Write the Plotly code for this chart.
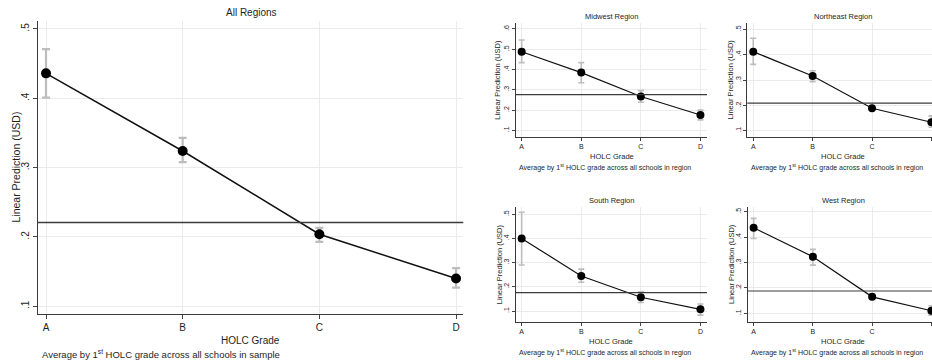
import plotly.graph_objects as go

W, H = 932, 362

grades = ["A", "B", "C", "D"]

# All Regions
all_mean = [0.436, 0.324, 0.204, 0.140]
all_hi = [0.471, 0.343, 0.213, 0.155]
all_lo = [0.401, 0.308, 0.193, 0.127]
all_avg = 0.221

# Midwest
mw_mean = [0.488, 0.385, 0.267, 0.176]
mw_hi = [0.546, 0.434, 0.296, 0.200]
mw_lo = [0.434, 0.335, 0.239, 0.152]
mw_avg = 0.276

# Northeast
ne_mean = [0.412, 0.316, 0.189, 0.134]
ne_hi = [0.465, 0.337, 0.195, 0.159]
ne_lo = [0.362, 0.294, 0.183, 0.114]
ne_avg = 0.209

# South
so_mean = [0.400, 0.245, 0.157, 0.107]
so_hi = [0.508, 0.273, 0.180, 0.129]
so_lo = [0.290, 0.219, 0.135, 0.083]
so_avg = 0.176

# West
we_mean = [0.437, 0.323, 0.165, 0.110]
we_hi = [0.474, 0.352, 0.176, 0.130]
we_lo = [0.395, 0.290, 0.155, 0.093]
we_avg = 0.188

main_ticks = [0.1, 0.2, 0.3, 0.4, 0.5]
main_ticktext = [".1", ".2", ".3", ".4", ".5"]
mw_ticks = [0.1, 0.2, 0.3, 0.4, 0.5, 0.6]
mw_ticktext = [".1", ".2", ".3", ".4", ".5", ".6"]

FONT = "Liberation Sans, Arial, sans-serif"
TXT = "#1e1e1e"

panels = [
    dict(mean=all_mean, hi=all_hi, lo=all_lo, avg=all_avg,
         box=(38, 463.3, 21, 314), xr=[-0.0585, 3.053], yr=[0.0889, 0.5115],
         tv=main_ticks, tt=main_ticktext, title="All Regions",
         foot="Average by 1<sup>st</sup> HOLC grade across all schools in sample", big=True,
         title_xy=(251, 13), ytitle_x=15, xt_y=340, foot_xy=(40, 354)),
    dict(mean=mw_mean, hi=mw_hi, lo=mw_lo, avg=mw_avg,
         box=(515.7, 707, 22.7, 136.7), xr=[-0.1, 3.11], yr=[0.069, 0.631],
         tv=mw_ticks, tt=mw_ticktext, title="Midwest Region",
         foot="Average by 1<sup>st</sup> HOLC grade across all schools in region", big=False,
         title_xy=(611.7, 16), ytitle_x=498, xt_y=156, foot_xy=(516.7, 168)),
    dict(mean=ne_mean, hi=ne_hi, lo=ne_lo, avg=ne_avg,
         box=(747.3, 932, 22.7, 136.7), xr=[-0.1, 3.01], yr=[0.077, 0.526],
         tv=main_ticks, tt=main_ticktext, title="Northeast Region",
         foot="Average by 1<sup>st</sup> HOLC grade across all schools in region", big=False,
         title_xy=(843, 16), ytitle_x=730.7, xt_y=156, foot_xy=(749, 168)),
    dict(mean=so_mean, hi=so_hi, lo=so_lo, avg=so_avg,
         box=(515.7, 707, 206.7, 321.7), xr=[-0.1, 3.11], yr=[0.056, 0.531],
         tv=main_ticks, tt=main_ticktext, title="South Region",
         foot="Average by 1<sup>st</sup> HOLC grade across all schools in region", big=False,
         title_xy=(611, 200), ytitle_x=499, xt_y=341, foot_xy=(517, 352.7)),
    dict(mean=we_mean, hi=we_hi, lo=we_lo, avg=we_avg,
         box=(747.7, 932, 206.7, 321.7), xr=[-0.1, 3.01], yr=[0.067, 0.52],
         tv=main_ticks, tt=main_ticktext, title="West Region",
         foot="Average by 1<sup>st</sup> HOLC grade across all schools in region", big=False,
         title_xy=(843, 200), ytitle_x=730.7, xt_y=341, foot_xy=(749, 352.7)),
]

fig = go.Figure()
layout = dict(width=W, height=H, margin=dict(l=0, r=0, t=0, b=0),
              paper_bgcolor="white", plot_bgcolor="white", showlegend=False,
              font=dict(family=FONT, color=TXT))
shapes = []
annotations = []

xidx = list(range(len(grades)))

for i, p in enumerate(panels):
    n = "" if i == 0 else str(i + 1)
    big = p["big"]
    x0, x1, y0, y1 = p["box"]
    err_up = [h - m for h, m in zip(p["hi"], p["mean"])]
    err_dn = [m - l for m, l in zip(p["mean"], p["lo"])]
    fig.add_trace(go.Scatter(
        x=xidx, y=p["mean"], mode="lines+markers",
        xaxis="x" + n, yaxis="y" + n,
        line=dict(color="#111111", width=1.5 if big else 1.2),
        marker=dict(color="#000000", size=10 if big else 8),
        error_y=dict(type="data", symmetric=False, array=err_up, arrayminus=err_dn,
                     color="#bdbdbd", thickness=2.2 if big else 1.6, width=4 if big else 3),
        cliponaxis=True,
    ))
    tick_fs = 10 if big else 7
    layout["xaxis" + n] = dict(
        domain=[x0 / W, x1 / W], range=p["xr"], anchor="y" + n,
        tickvals=xidx, ticktext=grades, ticks="outside", ticklen=4 if big else 3,
        tickcolor="#444", showline=True, linecolor="#3a3a3a", linewidth=1,
        showgrid=True, gridcolor="#ebebeb", gridwidth=1, zeroline=False,
        tickfont=dict(size=tick_fs, color=TXT, family=FONT), fixedrange=True,
    )
    layout["yaxis" + n] = dict(
        domain=[1 - y1 / H, 1 - y0 / H], range=p["yr"], anchor="x" + n,
        tickvals=p["tv"], ticktext=p["tt"], ticks="outside", ticklen=4 if big else 3,
        tickcolor="#444", tickangle=-90, showline=True, linecolor="#3a3a3a", linewidth=1,
        showgrid=True, gridcolor="#ebebeb", gridwidth=1, zeroline=False,
        tickfont=dict(size=tick_fs, color=TXT, family=FONT), fixedrange=True,
    )
    shapes.append(dict(type="line", xref="x" + n + " domain", yref="y" + n,
                       x0=0, x1=1, y0=p["avg"], y1=p["avg"],
                       line=dict(color="#3c3c3c", width=1.5 if big else 1.2), layer="above"))
    tfs = 10 if big else 7.5
    annotations.append(dict(text=p["title"], xref="paper", yref="paper",
                            x=p["title_xy"][0] / W, y=1 - p["title_xy"][1] / H,
                            xanchor="center", yanchor="middle", showarrow=False,
                            font=dict(size=tfs, color=TXT, family=FONT)))
    yc = (y0 + y1) / 2
    annotations.append(dict(text="Linear Prediction (USD)", xref="paper", yref="paper",
                            x=p["ytitle_x"] / W, y=1 - yc / H, textangle=-90,
                            xanchor="center", yanchor="middle", showarrow=False,
                            font=dict(size=10.5 if big else 7.5, color=TXT, family=FONT)))
    annotations.append(dict(text="HOLC Grade", xref="paper", yref="paper",
                            x=((x0 + x1) / 2 if big else p["title_xy"][0]) / W, y=1 - p["xt_y"] / H,
                            xanchor="center", yanchor="middle", showarrow=False,
                            font=dict(size=10 if big else 7.5, color=TXT, family=FONT)))
    annotations.append(dict(text=p["foot"], xref="paper", yref="paper",
                            x=p["foot_xy"][0] / W, y=1 - p["foot_xy"][1] / H,
                            xanchor="left", yanchor="middle", showarrow=False,
                            font=dict(size=9.5 if big else 7, color=TXT, family=FONT)))

layout["shapes"] = shapes
layout["annotations"] = annotations
fig.update_layout(**layout)
fig.write_html("out.html")
